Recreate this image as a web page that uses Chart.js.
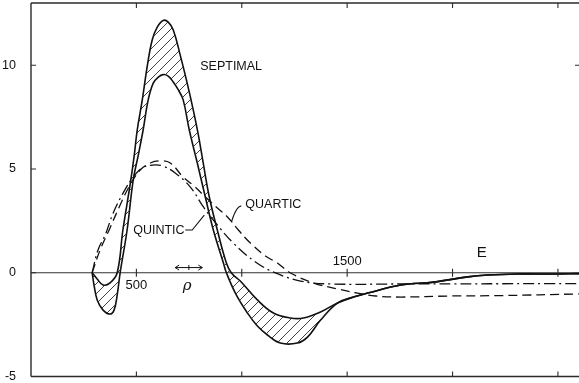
<!DOCTYPE html>
<html>
<head>
<meta charset="utf-8">
<script src="https://cdn.jsdelivr.net/npm/chart.js@4.4.1/dist/chart.umd.min.js"></script>
<style>
  html, body { margin: 0; padding: 0; background: #fff; }
  #wrap { width: 579px; height: 383px; position: relative; }
</style>
</head>
<body>
<div id="wrap"><canvas id="c"></canvas></div>
<script>
// Energy axis ticks and amplitude ticks
const xTickValues = [500, 1000, 1500, 2000, 2500];
const yTickValues = [-5, 0, 5, 10];

// Septimal fit, upper envelope of the band
const septUpperE = [290, 314, 342, 375, 409, 436, 470, 490, 504, 528, 551, 575, 599, 627, 651, 675, 708, 741, 770, 794, 817, 846, 884, 927, 951, 993, 1074, 1150, 1231, 1293, 1374, 1454, 1530, 1597, 1754, 1911, 2072, 2167, 2310, 2467, 2600];
const septUpperV = [0, -0.30, -0.59, -0.49, 0, 2.06, 4.23, 5.67, 6.88, 8.33, 9.92, 11.22, 11.84, 12.16, 12.08, 11.70, 10.49, 9.14, 7.84, 6.64, 5.29, 3.65, 2.06, 0.47, -0.01, -0.40, -1.31, -1.94, -2.18, -2.18, -1.89, -1.46, -1.17, -0.98, -0.59, -0.45, -0.20, -0.11, -0.06, -0.06, -0.04];

// Septimal fit, lower envelope of the band
const septLowerE = [290, 299, 314, 342, 375, 394, 409, 423, 456, 485, 509, 532, 556, 580, 604, 627, 651, 675, 699, 722, 751, 789, 827, 865, 913, 927, 974, 1027, 1074, 1122, 1183, 1264, 1312, 1374, 1454, 1530, 1597, 1754, 1911, 2072, 2167, 2310, 2467, 2600];
const septLowerV = [0, -0.59, -1.31, -1.80, -1.99, -1.80, -1.07, 0, 2.06, 4.47, 5.67, 6.88, 8.33, 9.14, 9.43, 9.55, 9.48, 9.19, 8.81, 8.33, 6.88, 5.29, 3.65, 2.06, 0.47, 0, -1.07, -1.94, -2.57, -3.00, -3.39, -3.39, -3.10, -2.28, -1.46, -1.17, -0.98, -0.59, -0.45, -0.20, -0.11, -0.06, -0.06, -0.04];

// Quartic fit
const quarticE = [290, 328, 375, 423, 470, 518, 566, 613, 661, 722, 779, 827, 879, 932, 984, 1041, 1112, 1169, 1231, 1340, 1454, 1549, 1635, 1754, 1991, 2229, 2600];
const quarticV = [0, 1.10, 2.16, 3.27, 4.23, 4.95, 5.29, 5.39, 5.29, 4.61, 4.13, 3.65, 3.17, 2.69, 2.06, 1.43, 0.81, 0.47, -0.01, -0.49, -0.78, -0.98, -1.12, -1.17, -1.12, -1.10, -1.02];

// Quintic fit
const quinticE = [290, 318, 352, 390, 437, 485, 528, 575, 623, 684, 756, 818, 865, 960, 1065, 1160, 1279, 1421, 1754, 2600];
const quinticV = [0, 1.10, 1.82, 2.88, 3.84, 4.61, 5.05, 5.19, 5.15, 4.81, 4.13, 3.17, 2.54, 1.43, 0.52, -0.01, -0.40, -0.54, -0.54, -0.52];

const INK = '#111';

function pairs(xs, ys) { return xs.map((x, i) => ({ x: x, y: ys[i] })); }

function hatchPattern() {
  const s = 10;
  const c = document.createElement('canvas');
  c.width = s; c.height = s;
  const g = c.getContext('2d');
  g.strokeStyle = '#2a2a2a';
  g.lineWidth = 0.9;
  g.beginPath();
  g.moveTo(0, s); g.lineTo(s, 0);
  g.moveTo(-2, 2); g.lineTo(2, -2);
  g.moveTo(s - 2, s + 2); g.lineTo(s + 2, s - 2);
  g.stroke();
  return g.createPattern(c, 'repeat');
}

// Frame, zero line, tick marks and annotations drawn on the chart's scales
const framePlugin = {
  id: 'frame',
  beforeDatasetsDraw(chart) {
    const { ctx, chartArea: a, scales: { y } } = chart;
    const y0 = y.getPixelForValue(0);
    ctx.save();
    ctx.strokeStyle = '#333';
    ctx.lineWidth = 1.1;
    ctx.beginPath();
    ctx.moveTo(a.left, y0); ctx.lineTo(a.right, y0);
    ctx.stroke();
    ctx.restore();
  },
  afterDatasetsDraw(chart) {
    const { ctx, chartArea: a, scales: { x, y } } = chart;
    const X = v => x.getPixelForValue(v);
    const Y = v => y.getPixelForValue(v);
    ctx.save();
    ctx.strokeStyle = '#2b2b2b';
    ctx.lineWidth = 1.4;
    ctx.beginPath();
    ctx.moveTo(a.left, a.top); ctx.lineTo(a.right, a.top);
    ctx.moveTo(a.left, a.bottom); ctx.lineTo(a.right, a.bottom);
    ctx.moveTo(a.left, a.top); ctx.lineTo(a.left, a.bottom);
    ctx.stroke();

    ctx.lineWidth = 1.1;
    ctx.beginPath();
    const y0 = Y(0);
    xTickValues.forEach(v => {
      const px = X(v);
      ctx.moveTo(px, a.top); ctx.lineTo(px, a.top + 5);
      ctx.moveTo(px, a.bottom); ctx.lineTo(px, a.bottom - 5);
      ctx.moveTo(px, y0 - 4); ctx.lineTo(px, y0 + 4);
    });
    yTickValues.forEach(v => {
      const py = Y(v);
      ctx.moveTo(a.left, py); ctx.lineTo(a.left + 5, py);
    });
    ctx.moveTo(a.right, Y(10)); ctx.lineTo(a.right - 4, Y(10));
    ctx.stroke();

    // leader lines for the curve names
    ctx.strokeStyle = INK;
    ctx.lineWidth = 1.1;
    ctx.beginPath();
    ctx.moveTo(X(998), Y(3.22));
    ctx.quadraticCurveTo(X(974), Y(3.22), X(951), Y(2.45));
    ctx.moveTo(X(732), Y(2.06));
    ctx.lineTo(X(765), Y(2.06));
    ctx.lineTo(X(822), Y(2.78));
    ctx.stroke();

    // resolution marker: double arrow with centre tick
    const ay = Y(0.25), ax1 = X(684), ax2 = X(813), am = X(749);
    ctx.lineWidth = 1;
    ctx.beginPath();
    ctx.moveTo(ax1, ay); ctx.lineTo(ax2, ay);
    ctx.moveTo(ax1 + 4, ay - 2.5); ctx.lineTo(ax1, ay); ctx.lineTo(ax1 + 4, ay + 2.5);
    ctx.moveTo(ax2 - 4, ay - 2.5); ctx.lineTo(ax2, ay); ctx.lineTo(ax2 - 4, ay + 2.5);
    ctx.moveTo(am, ay - 2.5); ctx.lineTo(am, ay + 2.5);
    ctx.stroke();

    ctx.fillStyle = INK;
    ctx.textBaseline = 'middle';
    ctx.font = '12.5px "Liberation Sans", Arial, sans-serif';
    ctx.textAlign = 'left';
    ctx.fillText('SEPTIMAL', X(803), Y(9.96));
    ctx.fillText('QUARTIC', X(1017), Y(3.27));
    ctx.fillText('QUINTIC', X(485), Y(2.01));
    ctx.font = '13px "Liberation Sans", Arial, sans-serif';
    ctx.textAlign = 'center';
    ctx.fillText('500', X(500), Y(-0.6));
    ctx.fillText('1500', X(1500), Y(0.57));
    ctx.font = '15px "Liberation Sans", Arial, sans-serif';
    ctx.fillText('E', X(2139), Y(0.98));
    ctx.font = 'italic 15px "DejaVu Serif", serif';
    ctx.fillText('\u03C1', X(741), Y(-0.62));
    ctx.restore();
  }
};

const hatch = hatchPattern();
const CURVE = { pointRadius: 0, tension: 0.4, borderColor: INK };

new Chart(document.getElementById('c'), {
  type: 'line',
  data: {
    datasets: [
      Object.assign({
        label: 'SEPTIMAL',
        data: pairs(septUpperE, septUpperV),
        borderWidth: 1.6,
        backgroundColor: hatch,
        fill: '+1'
      }, CURVE),
      Object.assign({
        label: 'SEPTIMAL lower',
        data: pairs(septLowerE, septLowerV),
        borderWidth: 1.6,
        fill: false
      }, CURVE),
      Object.assign({
        label: 'QUARTIC',
        data: pairs(quarticE, quarticV),
        borderWidth: 1.3,
        borderDash: [9, 5],
        fill: false
      }, CURVE),
      Object.assign({
        label: 'QUINTIC',
        data: pairs(quinticE, quinticV),
        borderWidth: 1.3,
        borderDash: [11, 4, 2, 4],
        fill: false
      }, CURVE)
    ]
  },
  options: {
    responsive: true,
    maintainAspectRatio: false,
    animation: false,
    layout: { padding: { top: 3, bottom: 6.5, left: 0, right: 0 } },
    plugins: { legend: { display: false }, tooltip: { enabled: false } },
    scales: {
      x: {
        type: 'linear', min: 0, max: 2600, display: false
      },
      y: {
        type: 'linear', min: -5, max: 13,
        grid: { display: false },
        border: { display: false },
        afterBuildTicks: s => { s.ticks = yTickValues.map(v => ({ value: v })); },
        afterFit: s => { s.width = 31; s.paddingTop = 0; s.paddingBottom = 0; },
        ticks: {
          padding: 7,
          color: INK,
          font: { family: '"Liberation Sans", Arial, sans-serif', size: 12.5 }
        }
      }
    }
  },
  plugins: [framePlugin]
});
</script>
</body>
</html>
